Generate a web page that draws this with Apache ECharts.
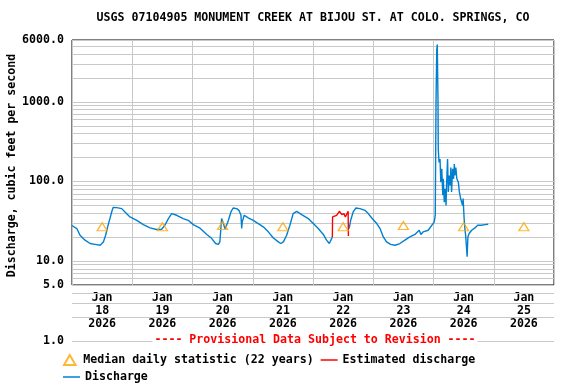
<!DOCTYPE html>
<html>
<head>
<meta charset="utf-8">
<script src="https://cdn.jsdelivr.net/npm/echarts@6/dist/echarts.min.js"></script>
<style>html,body{margin:0;padding:0;background:#fff}#c{width:576px;height:384px}</style>
</head>
<body>
<div id="c"></div>
<script>
// ---- data ----
const chartTitle = 'USGS 07104905 MONUMENT CREEK AT BIJOU ST. AT COLO. SPRINGS, CO';
const yAxisName = 'Discharge, cubic feet per second';
const provisionalText = '---- Provisional Data Subject to Revision ----';
const startDate = '2026-01-18T00:00:00Z';
const dayMonths = ['Jan','Jan','Jan','Jan','Jan','Jan','Jan','Jan'];
const dayNumbers = ['18','19','20','21','22','23','24','25'];
const dayYears = ['2026','2026','2026','2026','2026','2026','2026','2026'];

// hours after startDate
const discharge1Hours = [0,1.9,3.2,5.2,7.2,9.2,11.2,12.5,13.4,14.2,15.1,15.8,16.4,17.8,19.8,21.1,23.1,25.8,28.4,31.1,33.7,35.7,37.0,38.4,39.7,40.3,41.7,44.3,46.3,48.3,51.0,53.7,55.6,57.2,58.3,58.9,59.3,59.6,60.3,60.9,61.6,62.3,63.3,64.2,65.6,66.5,67.3,67.6,67.8,68.6,70.2,72.2,74.2,76.2,78.2,80.2,82.2,83.2,84.2,85.5,86.8,88.1,89.5,91.5,94.1,96.1,98.1,100.1,101.4,102.5,103.2,103.7];
const discharge1Values = [28.0,25.6,21.1,18.3,16.6,16.2,15.8,17.4,21.1,26.9,34.1,41.4,47.3,46.9,45.6,41.4,35.8,32.5,28.7,26.1,24.9,25.1,28.2,34.2,39.5,40.2,37.6,34.2,32.5,28.7,25.9,21.6,19.3,16.6,16.2,17.4,25.6,34.2,29.6,25.6,28.2,32.5,41.4,46.4,45.6,43.4,37.6,25.6,31.0,37.6,34.8,32.5,29.6,26.9,23.3,19.5,17.4,16.6,17.4,21.1,28.2,39.5,42.2,38.4,34.2,29.6,25.6,21.6,18.3,16.6,15.8,20.0];
const discharge2Hours = [110.4,111.0,112.0,113.1,114.7,116.7,118.0,119.4,121.4,122.7,124.0,125.3,126.9,128.7,130.6,132.6,134.6,136.6,138.3,139.0,139.9,141.9,142.6,144.3,144.7,145.0,145.3,145.5,145.8,145.9,146.2,146.6,146.9,147.3,147.7,147.9,148.3,148.6,149.0,149.2,149.6,149.9,150.3,150.7,150.9,151.2,151.6,152.0,152.3,152.5,152.9,153.3,153.9,154.3,154.8,155.2,155.6,155.8,156.2,156.5,156.8,157.2,157.4,157.7,158.2,159.2,160.5,161.6,163.2,164.5,165.8];
const discharge2Values = [25.6,32.5,41.4,46.4,45.6,43.4,39.5,34.8,29.6,25.6,20.1,17.4,16.2,15.8,16.6,18.3,20.1,21.6,24.4,21.6,23.3,24.4,25.6,31.0,37.6,982,4560,5270,982,255,174,192,98,144,67,108,55,81,50,89,192,74,119,89,150,74,144,108,166,119,150,108,98,74,61,58,50,61,34,25.6,21.1,22.2,11.3,20.1,22.2,24.4,26.1,28.2,28.2,28.7,29.0];
const estimatedHours = [103.7,103.8,105.4,106.5,107.0,107.5,108.3,108.9,110.0,110.1];
const estimatedValues = [20.0,35.8,37.6,42.2,42.2,38.4,39.5,35.8,42.2,20.7];
const medianHours = [12,36,60,84,108,132,156,180];
const medianValues = [27,27,28,27,27,28,27,27];
const upperMinorLines = [6,7,8,9,20,30,40,50,60,70,80,90,200,300,400,500,600,700,800,900,2000,3000,4000,5000];
const lowerMinorLines = [2,3,4];

// ---- build ----
const T0 = Date.parse(startDate);
const HOUR = 3600000, DAY = 86400000;
const pts = (hs, vs) => hs.map((h, i) => [T0 + h * HOUR, vs[i]]);
const FONT = 'DejaVu Sans Mono';
const txt = (size, color) => ({fontFamily: FONT, fontWeight: 'bold', fontSize: size, color: color || '#000'});
const GRID_GRAY = '#c8c8c8';
const BLUE = '#0080d0';
const LINE_ICON = 'path://M0,0L17,0L17,1.5L0,1.5Z';
const TRI_ICON = 'path://M5,0L10,8.66L0,8.66Z';
const dayLabels = dayMonths.map((m, i) => m + '\n' + dayNumbers[i] + '\n' + dayYears[i]);
const gridLineMark = vals => ({
  silent: true, z: 1, symbol: ['none', 'none'], animation: false,
  label: {show: false},
  lineStyle: {color: GRID_GRAY, type: 'solid', width: 1},
  emphasis: {disabled: true},
  data: vals.map(v => ({yAxis: v}))
});

const chart = echarts.init(document.getElementById('c'), null, {renderer: 'canvas', width: 576, height: 384});
chart.setOption({
  animation: false,
  backgroundColor: '#fff',
  title: [
    {text: chartTitle, left: 313, top: 12, textAlign: 'center', padding: 0, textStyle: txt(11.6)},
    {text: provisionalText, left: 313, top: 334, textAlign: 'center', padding: [0, 2], backgroundColor: '#fff', textStyle: txt(11.6, '#ff0000')}
  ],
  legend: [
    {left: 58, top: 349, itemWidth: 17, itemHeight: 10, itemGap: 7, selectedMode: false, textStyle: txt(11.6),
     data: [{name: 'Median daily statistic (22 years)', icon: TRI_ICON},
            {name: 'Estimated discharge', icon: LINE_ICON, itemStyle: {color: '#ff0000', borderWidth: 0}}]},
    {left: 58, top: 366, itemWidth: 17, itemHeight: 10, selectedMode: false, textStyle: txt(11.6),
     data: [{name: 'Discharge', icon: LINE_ICON, itemStyle: {color: BLUE, borderWidth: 0}}]}
  ],
  grid: [
    {left: 72, top: 40, width: 482, height: 245, outerBoundsMode: 'none', containLabel: false,
     show: true, borderColor: '#000', borderWidth: 1, backgroundColor: 'transparent'},
    {left: 72, top: 285, width: 482, height: 56, outerBoundsMode: 'none', containLabel: false, show: false}
  ],
  xAxis: [
    {type: 'value', gridIndex: 0, min: T0, max: T0 + 8 * DAY, interval: DAY,
     axisLabel: {show: false}, axisTick: {show: false}, axisLine: {show: false},
     splitLine: {show: true, lineStyle: {color: GRID_GRAY, width: 1}}},
    {type: 'category', gridIndex: 0, position: 'bottom', data: dayLabels, boundaryGap: true,
     axisLine: {show: false}, axisTick: {show: false}, splitLine: {show: false},
     axisLabel: Object.assign({interval: 0, margin: 6, lineHeight: 13}, txt(11.6))},
    {type: 'value', gridIndex: 1, min: T0, max: T0 + 8 * DAY, show: false}
  ],
  yAxis: [
    {type: 'log', logBase: 10, gridIndex: 0, min: 5, max: 6000,
     name: yAxisName, nameLocation: 'middle', nameRotate: 90, nameGap: 54, nameMoveOverlap: false,
     nameTextStyle: Object.assign({padding: [0, 6, 0, 0]}, txt(11.6)),
     axisLine: {show: false}, axisTick: {show: false},
     axisLabel: Object.assign({margin: 8, formatter: v => Number(v).toFixed(1)}, txt(11.6)),
     splitLine: {show: true, lineStyle: {color: GRID_GRAY, width: 1}}},
    {type: 'log', logBase: 10, gridIndex: 1, min: 1, max: 5,
     axisLine: {show: false}, axisTick: {show: false},
     axisLabel: Object.assign({margin: 8, showMaxLabel: false, formatter: v => Number(v).toFixed(1)}, txt(11.6)),
     splitLine: {show: true, lineStyle: {color: GRID_GRAY, width: 1}}}
  ],
  series: [
    {name: 'lower-grid', type: 'line', xAxisIndex: 2, yAxisIndex: 1, data: [], silent: true,
     markLine: gridLineMark(lowerMinorLines)},
    {name: 'Discharge', type: 'line', xAxisIndex: 0, yAxisIndex: 0, data: pts(discharge1Hours, discharge1Values),
     showSymbol: false, symbol: 'none', z: 3, lineStyle: {color: BLUE, width: 1.4}, itemStyle: {color: BLUE},
     markLine: gridLineMark(upperMinorLines)},
    {name: 'Discharge', type: 'line', xAxisIndex: 0, yAxisIndex: 0, data: pts(discharge2Hours, discharge2Values),
     showSymbol: false, symbol: 'none', z: 3, lineStyle: {color: BLUE, width: 1.4}, itemStyle: {color: BLUE}},
    {name: 'Estimated discharge', type: 'line', xAxisIndex: 0, yAxisIndex: 0, data: pts(estimatedHours, estimatedValues),
     showSymbol: false, symbol: 'none', z: 3, lineStyle: {color: '#ff0000', width: 1.4}, itemStyle: {color: '#ff0000'}},
    {name: 'Median daily statistic (22 years)', type: 'scatter', xAxisIndex: 0, yAxisIndex: 0,
     data: pts(medianHours, medianValues), symbol: 'triangle', symbolSize: [10, 8], z: 4,
     itemStyle: {color: 'rgba(0,0,0,0)', borderColor: '#ffa500', borderWidth: 1.3}}
  ]
});
</script>
</body>
</html>
